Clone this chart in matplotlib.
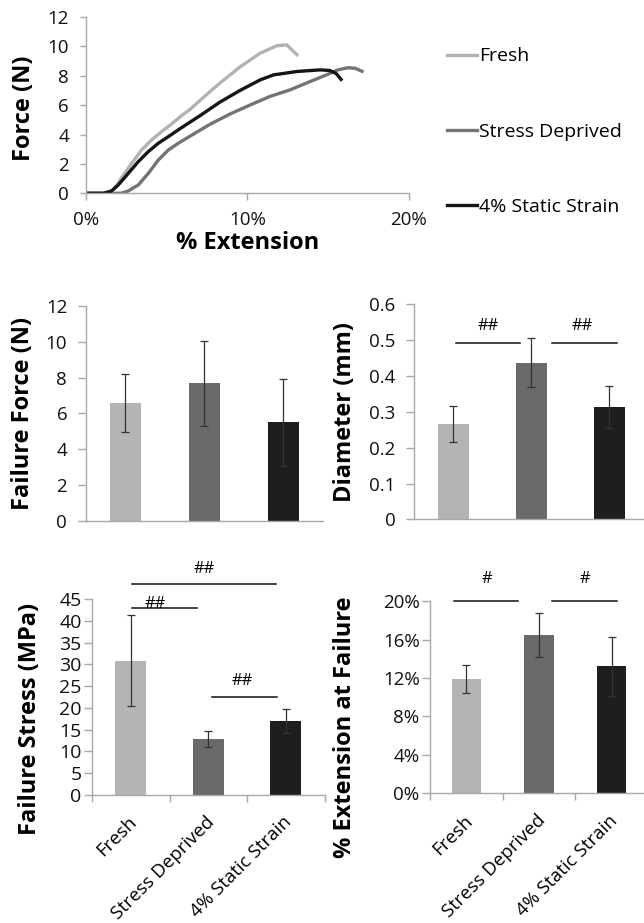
import matplotlib
matplotlib.use("Agg")
import matplotlib.pyplot as plt
from matplotlib.ticker import FuncFormatter
from matplotlib.transforms import ScaledTranslation

plt.rcParams['font.family'] = ['Open Sans', 'DejaVu Sans']

groups = ['Fresh', 'Stress Deprived', '4% Static Strain']
bar_colors = ['#b4b4b4', '#6a6a6a', '#1e1e1e']
line_colors = ['#b2b2b2', '#747474', '#161616']
axis_grey = '#a8a8a8'

# force vs extension curves (% extension, N)
fresh_x = [0, 1.5, 1.8, 2.2, 2.85, 3.46, 4.08, 4.7, 5.3, 5.84, 6.5, 7.1, 8.3, 9.55, 10.8, 11.83, 12.45, 12.75, 13.07]
fresh_y = [0, 0, 0.34, 1.02, 2.04, 2.95, 3.63, 4.2, 4.7, 5.2, 5.75, 6.35, 7.5, 8.6, 9.54, 10.04, 10.1, 9.77, 9.43]
sd_x = [0, 2.2, 2.64, 3.26, 3.88, 4.5, 5.12, 5.74, 6.4, 7.7, 8.94, 10.2, 11.4, 12.65, 13.9, 14.9, 15.6, 16.25, 16.7, 17.1]
sd_y = [0, 0, 0.16, 0.57, 1.36, 2.27, 2.95, 3.41, 3.85, 4.7, 5.4, 6.02, 6.59, 7.04, 7.61, 8.06, 8.4, 8.55, 8.5, 8.3]
ss_x = [0, 1.1, 1.6, 2.02, 2.64, 3.26, 3.88, 4.5, 5.12, 5.84, 7.1, 8.3, 9.55, 10.8, 11.63, 13.07, 14.5, 15.1, 15.5, 15.8]
ss_y = [0, 0, 0.16, 0.57, 1.36, 2.16, 2.84, 3.41, 3.86, 4.4, 5.3, 6.2, 7.0, 7.72, 8.06, 8.29, 8.4, 8.36, 8.15, 7.75]

# bar panels: means and error bar (sd)
force_mean = [6.6, 7.67, 5.5]
force_err = [1.62, 2.37, 2.42]
diam_mean = [0.266, 0.437, 0.314]
diam_err = [0.05, 0.068, 0.058]
stress_mean = [30.8, 12.8, 17.0]
stress_err = [10.4, 1.9, 2.75]
ext_mean = [11.85, 16.5, 13.2]
ext_err = [1.45, 2.3, 3.1]

# significance brackets: (x0, x1, y line, text x, text y, text)
diam_sig = [(0.04, 0.86, 0.493, 0.45, 0.54, '##'), (1.27, 2.1, 0.493, 1.66, 0.54, '##')]
stress_sig = [(0.02, 1.88, 48.4, 0.95, 51.9, '##'), (0.02, 0.855, 42.9, 0.32, 43.8, '##'),
              (1.05, 1.89, 22.6, 1.44, 26.2, '##')]
ext_sig = [(-0.17, 0.71, 20.0, 0.29, 22.3, '#'), (1.18, 2.07, 20.0, 1.63, 22.3, '#')]

fig = plt.figure(figsize=(6.44, 9.23), dpi=100)

TICK = 13.5
LAB = 17


def style(ax):
    for s in ['top', 'right']:
        ax.spines[s].set_visible(False)
    for s in ['left', 'bottom']:
        ax.spines[s].set_color(axis_grey)
        ax.spines[s].set_linewidth(1.0)
    ax.tick_params(colors=axis_grey, labelcolor='#111111', labelsize=TICK, width=1.0)


def bars(ax, means, errs):
    pos = range(len(means))
    ax.bar(pos, means, width=0.4, color=bar_colors, zorder=2)
    ax.errorbar(pos, means, yerr=errs, fmt='none', ecolor='#333333', elinewidth=0.9,
                capsize=2.6, capthick=0.9, zorder=3)
    ax.set_xlim(-0.5, 2.5)


def sig(ax, items, size):
    for x0, x1, y, tx, ty, t in items:
        ax.plot([x0, x1], [y, y], color='#111111', lw=1.1, clip_on=False)
        ax.text(tx, ty, t, ha='center', va='center', fontsize=size, clip_on=False)


def categories(ax):
    ax.set_xticks([-0.5, 0.5, 1.5, 2.5])
    ax.set_xticklabels([])
    ax.tick_params(axis='x', which='major', length=5, direction='out')
    ax.set_xticks([0, 1, 2], minor=True)
    ax.set_xticklabels(groups, minor=True, rotation=45, ha='right', va='top',
                       rotation_mode='anchor', fontsize=13.5)
    ax.tick_params(axis='x', which='minor', length=0, pad=13)
    off = ScaledTranslation(-3 / 100, 0, fig.dpi_scale_trans)
    for lab in ax.get_xticklabels(minor=True):
        lab.set_transform(lab.get_transform() + off)


# top: force vs extension
ax0 = fig.add_axes([0.133, 0.7906, 0.502, 0.191])
style(ax0)
ax0.plot(fresh_x, fresh_y, color=line_colors[0], lw=2.4, label=groups[0])
ax0.plot(sd_x, sd_y, color=line_colors[1], lw=2.4, label=groups[1])
ax0.plot(ss_x, ss_y, color=line_colors[2], lw=2.4, label=groups[2])
ax0.set_xlim(0, 20)
ax0.set_ylim(0, 12)
ax0.set_xticks([0, 10, 20])
ax0.set_yticks(range(0, 13, 2))
ax0.xaxis.set_major_formatter(FuncFormatter(lambda v, p: f'{v:.0f}%'))
ax0.tick_params(axis='x', length=5, pad=8)
ax0.tick_params(axis='y', length=4, pad=8)
ax0.set_xlabel('% Extension', fontsize=LAB, fontweight='bold', labelpad=1)
ax0.set_ylabel('Force (N)', fontsize=LAB, fontweight='bold')
ax0.yaxis.set_label_coords(-0.155, 0.48)
ax0.legend(loc='center left', bbox_to_anchor=(1.118, 0.349), frameon=False, fontsize=14,
           labelspacing=2.95, handlelength=1.55, handletextpad=0.1, borderpad=0,
           borderaxespad=0)

# failure force
ax1 = fig.add_axes([0.1335, 0.4359, 0.368, 0.2326])
style(ax1)
bars(ax1, force_mean, force_err)
ax1.set_ylim(0, 12)
ax1.set_yticks(range(0, 13, 2))
ax1.set_xticks([])
ax1.tick_params(axis='y', length=5.5, pad=8)
ax1.set_ylabel('Failure Force (N)', fontsize=LAB, fontweight='bold')
ax1.yaxis.set_label_coords(-0.215, 0.5)

# diameter
ax2 = fig.add_axes([0.6433, 0.4373, 0.363, 0.2329])
style(ax2)
bars(ax2, diam_mean, diam_err)
ax2.set_ylim(0, 0.6)
ax2.set_yticks([0, 0.1, 0.2, 0.3, 0.4, 0.5, 0.6])
ax2.yaxis.set_major_formatter(FuncFormatter(lambda v, p: '0' if abs(v) < 1e-9 else f'{v:.1f}'))
ax2.set_xticks([])
ax2.tick_params(axis='y', length=5.5, pad=8)
ax2.set_ylabel('Diameter (mm)', fontsize=LAB, fontweight='bold')
ax2.yaxis.set_label_coords(-0.245, 0.5)
sig(ax2, diam_sig, 12)

# failure stress
ax3 = fig.add_axes([0.1429, 0.1387, 0.361, 0.2124])
style(ax3)
bars(ax3, stress_mean, stress_err)
ax3.set_ylim(0, 45)
ax3.set_yticks(range(0, 46, 5))
ax3.tick_params(axis='y', length=5.5, pad=2, labelsize=14)
categories(ax3)
ax3.set_ylabel('Failure Stress (MPa)', fontsize=LAB, fontweight='bold')
ax3.yaxis.set_label_coords(-0.215, 0.39)
sig(ax3, stress_sig, 12)

# extension at failure
ax4 = fig.add_axes([0.6677, 0.1405, 0.3385, 0.2083])
style(ax4)
bars(ax4, ext_mean, ext_err)
ax4.set_ylim(0, 20)
ax4.set_yticks(range(0, 21, 4))
ax4.yaxis.set_major_formatter(FuncFormatter(lambda v, p: f'{v:.0f}%'))
ax4.tick_params(axis='y', length=5.5, pad=2)
categories(ax4)
ax4.set_ylabel('% Extension at Failure', fontsize=LAB, fontweight='bold')
ax4.yaxis.set_label_coords(-0.335, 0.344)
sig(ax4, ext_sig, 12)

fig.savefig('out.png', dpi=100)
